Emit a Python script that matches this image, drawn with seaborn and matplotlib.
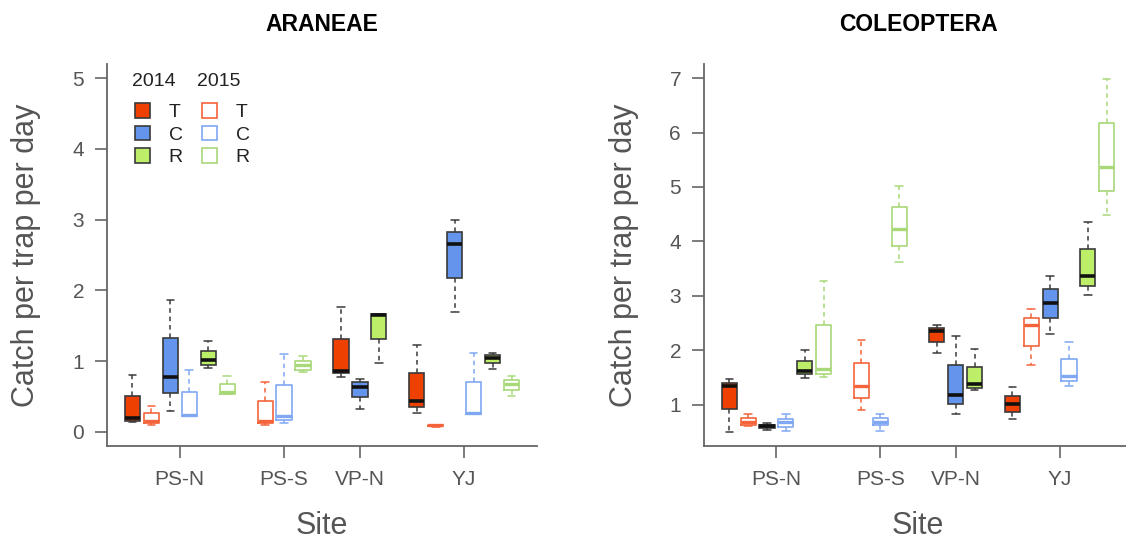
import numpy as np
import pandas as pd
import matplotlib
matplotlib.use("Agg")
import matplotlib.pyplot as plt
import seaborn as sns
from matplotlib.patches import Patch

sns.set_theme(style="white")
plt.rcParams["font.family"] = ["Liberation Sans", "DejaVu Sans"]

# ---------------- data ----------------
sites = ["PS-N", "PS-S", "VP-N", "YJ"]
group_order = ["T2014", "T2015", "C2014", "C2015", "R2014", "R2015"]

# ARANEAE: five-number summaries (min, q1, median, q3, max)
ara_site = ["PS-N"] * 6 + ["PS-S"] * 3 + ["VP-N"] * 3 + ["YJ"] * 6
ara_group = group_order + ["T2015", "C2015", "R2015"] + ["T2014", "C2014", "R2014"] + group_order
ara_min = [0.14, 0.09, 0.30, 0.22, 0.90, 0.54, 0.09, 0.12, 0.85, 0.77, 0.33, 0.98, 0.27, 0.07, 1.69, 0.25, 0.89, 0.51]
ara_q1 = [0.16, 0.13, 0.545, 0.22, 0.94, 0.54, 0.12, 0.17, 0.87, 0.83, 0.49, 1.31, 0.35, 0.08, 2.17, 0.25, 0.97, 0.59]
ara_med = [0.20, 0.16, 0.78, 0.24, 1.01, 0.57, 0.16, 0.23, 0.94, 0.86, 0.64, 1.65, 0.44, 0.09, 2.66, 0.26, 1.04, 0.67]
ara_q3 = [0.50, 0.26, 1.32, 0.56, 1.15, 0.67, 0.43, 0.66, 1.00, 1.31, 0.70, 1.66, 0.83, 0.10, 2.83, 0.70, 1.08, 0.73]
ara_max = [0.81, 0.36, 1.87, 0.88, 1.28, 0.79, 0.70, 1.10, 1.07, 1.77, 0.75, 1.66, 1.23, 0.10, 3.00, 1.12, 1.11, 0.79]

# COLEOPTERA
col_site = ["PS-N"] * 6 + ["PS-S"] * 3 + ["VP-N"] * 3 + ["YJ"] * 6
col_group = group_order + ["T2015", "C2015", "R2015"] + ["T2014", "C2014", "R2014"] + group_order
col_min = [0.49, 0.61, 0.53, 0.51, 1.49, 1.50, 0.91, 0.51, 3.62, 1.95, 0.83, 1.26, 0.74, 1.72, 2.30, 1.35, 3.01, 4.49]
col_q1 = [0.92, 0.63, 0.57, 0.59, 1.56, 1.57, 1.12, 0.62, 3.92, 2.15, 1.01, 1.31, 0.87, 2.08, 2.59, 1.43, 3.18, 4.93]
col_med = [1.34, 0.69, 0.60, 0.68, 1.61, 1.66, 1.34, 0.68, 4.23, 2.35, 1.18, 1.38, 1.01, 2.46, 2.87, 1.52, 3.37, 5.37]
col_q3 = [1.40, 0.76, 0.63, 0.74, 1.81, 2.46, 1.77, 0.76, 4.63, 2.41, 1.73, 1.69, 1.15, 2.60, 3.12, 1.84, 3.86, 6.18]
col_max = [1.47, 0.82, 0.66, 0.83, 2.00, 3.28, 2.19, 0.82, 5.01, 2.47, 2.27, 2.02, 1.32, 2.76, 3.37, 2.15, 4.35, 6.98]

# ---------------- styles ----------------
FILL = {"T": "#EE4000", "C": "#6495ED", "R": "#BCEE68"}
OUT15 = {"T": "#F4643A", "C": "#80A8F2", "R": "#A8D878"}
EDGE14 = "#3a3a3a"
AXCOL = "#666666"
TXTCOL = "#555555"
DASH = (0, (3, 2.5))


def layout(site_list, group_list):
    """Consecutive positions within a site, gap of one slot between sites."""
    pos, centers = [], {}
    cur = 0
    for s in sites:
        idx = [i for i, ss in enumerate(site_list) if ss == s]
        idx.sort(key=lambda i: group_order.index(group_list[i]))
        if not idx:
            continue
        if pos:
            cur += 1
        ps = []
        for i in idx:
            cur += 1
            ps.append((i, cur))
        centers[s] = np.mean([p for _, p in ps])
        pos.extend(ps)
    out = [0] * len(site_list)
    for i, p in pos:
        out[i] = p
    return out, centers


def draw_panel(ax, site_list, group_list, mn, q1, md, q3, mx, title, yticks, ylim):
    positions, centers = layout(site_list, group_list)
    for i in range(len(site_list)):
        d = pd.DataFrame({"pos": [positions[i]] * 5,
                          "value": [mn[i], q1[i], md[i], q3[i], mx[i]]})
        treat, year = group_list[i][0], group_list[i][1:]
        if year == "2014":
            sns.boxplot(data=d, x="pos", y="value", native_scale=True, orient="x",
                        width=0.8, whis=(0, 100), fill=True, color=FILL[treat],
                        linecolor=EDGE14, linewidth=1.2, saturation=1, showfliers=False,
                        medianprops=dict(color="#111111", linewidth=2.6),
                        whiskerprops=dict(color=EDGE14, linestyle=DASH, linewidth=1.1),
                        capprops=dict(color=EDGE14, linewidth=1.1), ax=ax)
        else:
            oc = OUT15[treat]
            sns.boxplot(data=d, x="pos", y="value", native_scale=True, orient="x",
                        width=0.8, whis=(0, 100), fill=False, color=oc,
                        linewidth=1.2, saturation=1, showfliers=False,
                        medianprops=dict(color=oc, linewidth=2.4),
                        whiskerprops=dict(color=oc, linestyle=DASH, linewidth=1.1),
                        capprops=dict(color=oc, linewidth=1.1), ax=ax)
    n = max(positions)
    ax.set_xlim(0.5 - 0.04 * n, n + 0.5 + 0.04 * n)
    ax.set_ylim(*ylim)
    ax.set_xticks([centers[s] for s in sites])
    ax.set_xticklabels(sites)
    ax.set_yticks(yticks)
    ax.set_yticklabels([str(t) for t in yticks])
    for sp in ["top", "right"]:
        ax.spines[sp].set_visible(False)
    for sp in ["left", "bottom"]:
        ax.spines[sp].set_color(AXCOL)
        ax.spines[sp].set_linewidth(1.3)
    ax.tick_params(axis="both", direction="out", length=8.5, width=1.2, color=AXCOL,
                   labelsize=15, labelcolor=TXTCOL, left=True, bottom=True)
    ax.tick_params(axis="x", pad=9)
    ax.tick_params(axis="y", pad=8)
    ax.set_xlabel("Site", fontsize=22, color=TXTCOL)
    ax.set_ylabel("Catch per trap per day", fontsize=22, color=TXTCOL)
    ax.xaxis.set_label_coords(0.5, -0.17)
    ax.yaxis.set_label_coords(-0.153, 0.5)
    ax.set_title(title, fontsize=16.5, fontweight="bold", color="black", pad=24)
    ax.grid(False)


fig = plt.figure(figsize=(11.26, 5.44), dpi=100)
ax1 = fig.add_axes([107 / 1126, 98 / 544, 430 / 1126, 382 / 544])
ax2 = fig.add_axes([704 / 1126, 98 / 544, 428 / 1126, 382 / 544])

draw_panel(ax1, ara_site, ara_group, ara_min, ara_q1, ara_med, ara_q3, ara_max,
           "ARANEAE", [0, 1, 2, 3, 4, 5], (-0.2, 5.2))
draw_panel(ax2, col_site, col_group, col_min, col_q1, col_med, col_q3, col_max,
           "COLEOPTERA", [1, 2, 3, 4, 5, 6, 7], (0.24, 7.26))

# legend
handles = [Patch(facecolor=FILL[t], edgecolor=EDGE14, linewidth=1.2) for t in "TCR"] + \
          [Patch(facecolor="white", edgecolor=OUT15[t], linewidth=1.2) for t in "TCR"]
labels = ["T", "C", "R", "T", "C", "R"]
leg = ax1.legend(handles, labels, ncol=2, loc="upper left", bbox_to_anchor=(0.065, 0.897),
                 frameon=False, fontsize=14, handlelength=0.78, handleheight=0.78,
                 handletextpad=0.95, columnspacing=1.0, labelspacing=0.22,
                 borderpad=0, borderaxespad=0)
for t in leg.get_texts():
    t.set_color("#222222")
ax1.text(0.058, 0.953, "2014", transform=ax1.transAxes, fontsize=14, color="#222222",
         ha="left", va="center")
ax1.text(0.209, 0.953, "2015", transform=ax1.transAxes, fontsize=14, color="#222222",
         ha="left", va="center")

fig.savefig("out.png", dpi=100)
